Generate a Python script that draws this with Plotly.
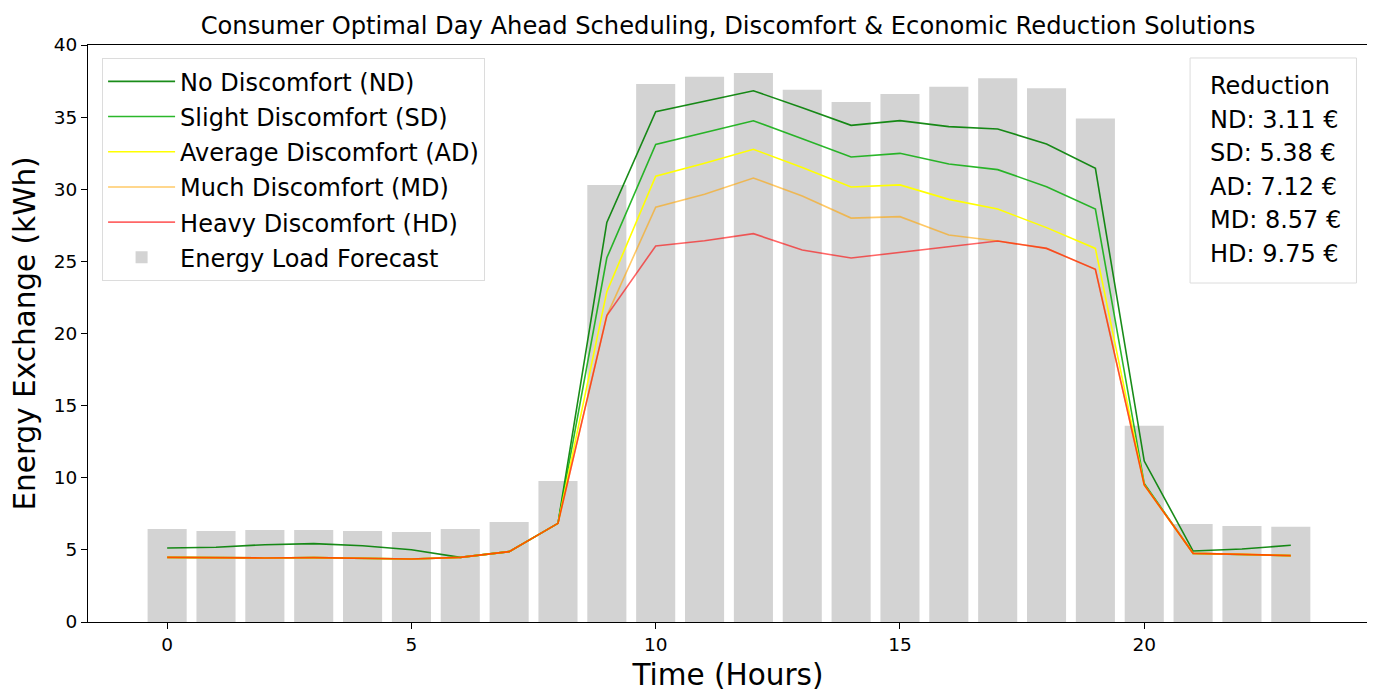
import plotly.graph_objects as go

hours = list(range(24))
forecast = [6.45, 6.3, 6.38, 6.38, 6.3, 6.24, 6.45, 6.93, 9.77, 30.3, 37.3, 37.8,
            38.06, 36.9, 36.05, 36.6, 37.1, 37.7, 37.0, 34.9, 13.6, 6.8, 6.65, 6.6]
nd = [5.13, 5.18, 5.36, 5.43, 5.29, 5.01, 4.48, 4.88, 6.84, 27.7, 35.38, 36.1,
      36.83, 35.65, 34.43, 34.76, 34.34, 34.18, 33.14, 31.45, 11.16, 4.92, 5.06, 5.32]
sd = [4.48, 4.44, 4.44, 4.46, 4.42, 4.37, 4.48, 4.88, 6.84, 25.25, 33.1, 33.9,
      34.75, 33.5, 32.24, 32.49, 31.75, 31.36, 30.18, 28.63, 9.6, 4.76, 4.69, 4.6]
ad = [4.48, 4.44, 4.44, 4.46, 4.42, 4.37, 4.48, 4.88, 6.84, 22.9, 30.9, 31.8,
      32.77, 31.5, 30.16, 30.3, 29.3, 28.63, 27.34, 25.9, 9.5, 4.76, 4.69, 4.6]
md = [4.48, 4.44, 4.44, 4.46, 4.42, 4.37, 4.48, 4.88, 6.84, 21.24, 28.75, 29.65,
      30.78, 29.53, 28.0, 28.1, 26.83, 26.41, 25.9, 24.45, 9.5, 4.76, 4.69, 4.6]
hd = [4.48, 4.44, 4.44, 4.46, 4.42, 4.37, 4.48, 4.88, 6.84, 21.24, 26.07, 26.43,
      26.92, 25.79, 25.23, 25.63, 26.02, 26.41, 25.9, 24.45, 9.5, 4.76, 4.69, 4.6]

series_names = ["No Discomfort (ND)", "Slight Discomfort (SD)", "Average Discomfort (AD)",
                "Much Discomfort (MD)", "Heavy Discomfort (HD)"]
series_colors = ["rgba(0,128,0,0.9)", "rgba(20,175,20,0.9)", "rgba(255,255,0,1)",
                 "rgba(255,165,0,0.6)", "rgba(255,0,0,0.6)"]
reduction_title = "Reduction"
reduction_labels = ["ND", "SD", "AD", "MD", "HD"]
reduction_values = [3.11, 5.38, 7.12, 8.57, 9.75]

FONT = "DejaVu Sans"
PLOT_H = 577.0  # plot area height in px

fig = go.Figure()
fig.add_trace(go.Bar(x=hours, y=forecast, width=0.8, marker=dict(color="lightgray", line=dict(width=0)),
                     name="Energy Load Forecast", legendrank=6, legendgroup="g6"))
for i, (vals, nm, col) in enumerate(zip([nd, sd, ad, md, hd], series_names, series_colors)):
    fig.add_trace(go.Scatter(x=hours, y=vals, mode="lines", name=nm,
                             line=dict(color=col, width=1.6), legendrank=i + 1,
                             legendgroup=f"g{i+1}"))

# Reduction box
fig.add_shape(type="rect", xref="paper", yref="paper", x0=0.861, x1=0.991, y0=0.5875, y1=0.9775,
              line=dict(color="#dcdcdc", width=1), fillcolor="white", layer="above")
red_lines = [reduction_title] + [f"{l}: {v:.2f} €" for l, v in zip(reduction_labels, reduction_values)]
for k, txt in enumerate(red_lines):
    ypx = 41 + 33.5 * k  # line centre, px below plot top
    fig.add_annotation(x=0.875, y=1 - ypx / PLOT_H, xref="paper", yref="paper",
                       xanchor="left", yanchor="middle", text=txt, showarrow=False,
                       font=dict(family=FONT, size=24, color="black"))

fig.update_layout(
    width=1367, height=685,
    margin=dict(l=80, r=7, t=37, b=71),
    plot_bgcolor="white", paper_bgcolor="white",
    font=dict(family=FONT, color="black"),
    title=dict(text="Consumer Optimal Day Ahead Scheduling, Discomfort & Economic Reduction Solutions",
               xref="paper", x=0.5, xanchor="center", y=0.975, yanchor="middle",
               font=dict(family=FONT, size=24.2)),
    legend=dict(x=0.011, y=0.977, xanchor="left", yanchor="top", bgcolor="white",
                bordercolor="#dcdcdc", borderwidth=1, font=dict(family=FONT, size=24),
                tracegroupgap=1, traceorder="grouped", itemwidth=67),
    bargap=0.2,
    xaxis=dict(range=[-1.62, 24.58], tickvals=[0, 5, 10, 15, 20], ticks="outside", ticklen=6,
               tickcolor="black", showline=True, linecolor="black", linewidth=1.2, mirror=True,
               showgrid=False, zeroline=False, tickfont=dict(family=FONT, size=18.5),
               title=dict(text="Time (Hours)", font=dict(family=FONT, size=29.5), standoff=10)),
    yaxis=dict(range=[0, 40], tickvals=[0, 5, 10, 15, 20, 25, 30, 35, 40], ticks="outside", ticklen=6,
               tickcolor="black", showline=True, linecolor="black", linewidth=1.2, mirror=True,
               showgrid=False, zeroline=False, tickfont=dict(family=FONT, size=18.5),
               title=dict(text="Energy Exchange (kWh)", font=dict(family=FONT, size=29.5), standoff=10)),
)

fig.write_html("out.html")
